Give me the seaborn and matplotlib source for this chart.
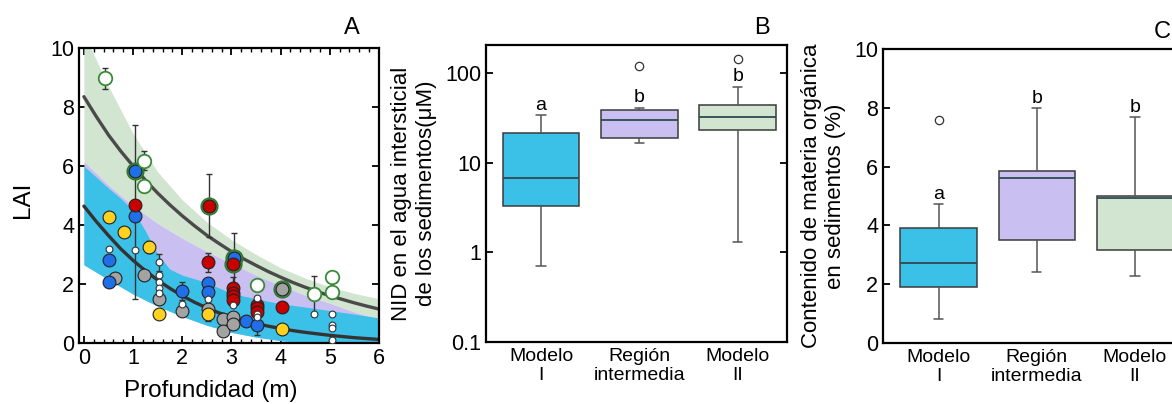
import numpy as np
import pandas as pd
import matplotlib
matplotlib.use("Agg")
import matplotlib.pyplot as plt
import seaborn as sns

# ---------------- Panel A data ----------------
fit_x = [0.0, 0.25, 0.5, 0.75, 1.0, 1.25, 1.5, 1.75, 2.0, 2.25, 2.5, 2.75, 3.0,
         3.25, 3.5, 3.75, 4.0, 4.25, 4.5, 4.75, 5.0, 5.25, 5.5, 5.75, 6.0]
fit_upper = [8.35, 7.68, 7.05, 6.5, 6.0, 5.52, 5.08, 4.68, 4.31, 3.97, 3.65, 3.37, 3.10,
             2.85, 2.63, 2.42, 2.23, 2.05, 1.89, 1.74, 1.60, 1.48, 1.36, 1.25, 1.15]
fit_lower = [4.64, 4.12, 3.64, 3.19, 2.80, 2.45, 2.13, 1.85, 1.60, 1.38, 1.19, 1.02, 0.88,
             0.76, 0.66, 0.57, 0.49, 0.42, 0.36, 0.31, 0.26, 0.22, 0.18, 0.15, 0.12]
depth_grid = [0.0, 0.5, 1.0, 1.5, 2.0, 2.5, 3.0, 3.5, 4.0, 4.5, 5.0, 5.5, 6.0]
green_top = [10.5, 8.7, 7.1, 5.8, 4.85, 4.1, 3.5, 3.0, 2.55, 2.2, 1.9, 1.68, 1.5]
purple_top = [6.15, 5.35, 4.65, 4.05, 3.55, 3.1, 2.7, 2.3, 1.95, 1.62, 1.35, 1.05, 0.8]
band_bottom = [2.65, 2.15, 1.66, 1.25, 0.9, 0.6, 0.36, 0.2, 0.08, 0.0, 0.0, 0.0, 0.0]
blue_x = [0.0, 0.5, 0.75, 1.0, 1.25, 1.5, 1.75, 2.0, 2.5, 3.0, 3.5, 4.0, 4.5, 5.0, 5.5, 6.0]
blue_top = [6.0, 5.25, 4.9, 4.5, 3.8, 3.0, 2.5, 2.3, 2.05, 1.68, 1.5, 1.33, 1.22, 1.1, 0.98, 0.85]
blue_bottom = [2.65, 2.15, 1.9, 1.66, 1.45, 1.25, 1.07, 0.9, 0.6, 0.36, 0.2, 0.08, 0.0, 0.0, 0.0, 0.0]

yellow_x = [0.51, 0.82, 1.33, 1.53, 2.52, 4.03]
yellow_y = [4.26, 3.75, 3.25, 0.98, 0.98, 0.47]
blue_pt_x = [0.51, 0.51, 1.03, 1.03, 2.0, 2.52, 2.52, 3.05, 3.30, 3.52]
blue_pt_y = [2.80, 2.07, 5.83, 4.32, 1.76, 2.02, 1.74, 2.89, 0.75, 0.61]
red_x = [1.03, 2.54, 2.52, 3.03, 3.03, 3.03, 3.03, 3.03, 3.52, 3.52, 3.52, 4.03]
red_y = [4.69, 4.66, 2.73, 2.68, 1.85, 1.70, 1.58, 1.45, 1.29, 1.18, 1.06, 1.21]
gray_x = [0.63, 1.22, 1.53, 2.0, 2.52, 2.83, 2.83, 3.03, 3.03, 4.03]
gray_y = [2.19, 2.31, 1.48, 1.08, 1.14, 0.82, 0.41, 0.89, 0.63, 1.83]
open_x = [0.43, 1.22, 1.22, 3.52, 4.68, 5.04, 5.04]
open_y = [8.97, 6.18, 5.33, 1.95, 1.65, 2.24, 1.73]
white_x = [0.51, 1.03, 1.53, 1.53, 1.53, 1.53, 1.53, 2.0, 2.52, 3.03, 3.52, 3.52,
           3.52, 4.68, 5.04, 5.04, 5.04, 5.04]
white_y = [3.19, 3.14, 2.73, 2.31, 2.08, 1.85, 1.68, 1.31, 1.48, 1.29, 1.52, 1.0,
           0.87, 0.97, 0.97, 0.61, 0.5, 0.1]
ring_x = [1.03, 2.54, 3.03, 3.05, 4.03]
ring_y = [5.83, 4.66, 2.68, 2.89, 1.83]
err_x = [0.43, 1.22, 1.22, 1.03, 1.03, 2.54, 2.52, 2.52, 3.05, 3.03, 3.52, 4.68,
         0.51, 1.33, 2.0, 1.53, 1.53, 2.52]
err_y = [8.97, 6.18, 5.33, 5.83, 3.14, 4.66, 2.73, 1.74, 2.89, 1.85, 0.61, 1.65,
         4.26, 3.25, 1.76, 2.73, 0.98, 0.98]
err_e = [0.35, 0.33, 0.2, 1.55, 1.65, 1.07, 0.31, 0.3, 0.85, 0.38, 0.35, 0.62,
         0.15, 0.2, 0.3, 0.3, 0.15, 0.22]

# ---------------- Panel B / C data ----------------
categories = ["Modelo\nI", "Región\nintermedia", "Modelo\nII"]
nid_modelo1 = [0.70, 3.3, 6.8, 21.3, 34.2]
nid_region = [16.8, 18.0, 19.1, 25.0, 29.9, 34.0, 38.3, 40.6, 120.0]
nid_modelo2 = [1.30, 15.0, 23.1, 28.0, 32.8, 38.0, 43.9, 70.3, 143.0]
nid_letters = ["a", "b", "b"]
nid_letter_y = [43.9, 53.0, 92.5]

mo_modelo1 = [0.8, 1.4, 1.9, 2.3, 2.72, 3.3, 3.9, 4.72, 7.6]
mo_region = [2.43, 3.5, 5.62, 5.86, 7.99]
mo_modelo2 = [2.29, 3.16, 4.92, 5.01, 7.69]
mo_letters = ["a", "b", "b"]
mo_letter_y = [5.06, 8.33, 8.0]

# ---------------- style ----------------
C_BLUE = "#3BC0E8"
C_PURPLE = "#C9BFF0"
C_GREEN = "#D2E5D1"
sns.set_style("ticks")
plt.rcParams["font.family"] = ["Liberation Sans", "DejaVu Sans"]
plt.rcParams["axes.linewidth"] = 1.6
for key in ["text.color", "axes.labelcolor", "xtick.color", "ytick.color",
            "axes.edgecolor"]:
    plt.rcParams[key] = "black"

fig = plt.figure(figsize=(11.72, 4.04), dpi=100)
W, H = 1172.0, 404.0


def axes_px(left, top, right, bottom):
    return fig.add_axes([left / W, 1 - bottom / H, (right - left) / W, (bottom - top) / H])


# ================= Panel A =================
axA = axes_px(79, 48, 379, 343)
axA.fill_between(depth_grid, purple_top, green_top, color=C_GREEN, lw=0, zorder=1)
axA.fill_between(depth_grid, band_bottom, purple_top, color=C_PURPLE, lw=0, zorder=1)
axA.fill_between(blue_x, blue_bottom, blue_top, color=C_BLUE, lw=0, zorder=1)
sns.lineplot(x=fit_x, y=fit_upper, color="#4a4a4a", lw=2.4, ax=axA, zorder=2)
sns.lineplot(x=fit_x, y=fit_lower, color="#333333", lw=2.4, ax=axA, zorder=2)
axA.errorbar(err_x, err_y, yerr=err_e, fmt="none", ecolor="#333333", elinewidth=1.0,
             capsize=2.2, capthick=1.0, zorder=3)
sns.scatterplot(x=ring_x, y=ring_y, s=150, color="#3f8a3f", edgecolor="#2f6f2f",
                linewidth=0.8, ax=axA, zorder=4)
for xs, ys, col in [(gray_x, gray_y, "#A3A3A3"), (yellow_x, yellow_y, "#FFD21F"),
                    (blue_pt_x, blue_pt_y, "#1F6FE8"), (red_x, red_y, "#C90000")]:
    sns.scatterplot(x=xs, y=ys, s=85, color=col, edgecolor="#222222", linewidth=0.8,
                    ax=axA, zorder=5)
sns.scatterplot(x=open_x, y=open_y, s=95, color="white", edgecolor="#3a8a3a",
                linewidth=1.3, ax=axA, zorder=5)
sns.scatterplot(x=white_x, y=white_y, s=24, color="white", edgecolor="#333333",
                linewidth=0.8, ax=axA, zorder=6)
axA.set_xlim(-0.1, 6.0)
axA.set_ylim(0, 10)
axA.set_xticks(range(0, 7))
axA.set_xticks(np.arange(0, 6.01, 0.2), minor=True)
axA.set_yticks(range(0, 11, 2))
axA.tick_params(axis="both", which="major", direction="in", length=5, width=1.3,
                labelsize=15.5, top=True, right=True)
axA.tick_params(axis="x", which="minor", direction="in", length=3, width=1.0,
                top=True, bottom=True)
axA.set_xlabel("Profundidad (m)", fontsize=17.5)
axA.xaxis.set_label_coords(0.44, -0.125)
axA.set_ylabel("LAI", fontsize=17.5)
axA.yaxis.set_label_coords(-0.15, 0.485)
axA.text(0.935, 1.03, "A", transform=axA.transAxes, ha="right", va="bottom", fontsize=17)
for s in axA.spines.values():
    s.set_visible(True)


# ================= box plot helper =================
def draw_box(ax, groups, values_list, log=False):
    df = pd.DataFrame({
        "grupo": np.concatenate([[g] * len(v) for g, v in zip(groups, values_list)]),
        "valor": np.concatenate(values_list),
    })
    sns.boxplot(data=df, x="grupo", y="valor", hue="grupo", order=groups,
                hue_order=groups, palette=[C_BLUE, C_PURPLE, C_GREEN], width=0.78,
                saturation=1, linecolor="#3a3a3a", linewidth=1.1, legend=False, ax=ax,
                whiskerprops={"color": "#555555"}, capprops={"color": "#555555"},
                flierprops={"marker": "o", "markerfacecolor": "none",
                            "markeredgecolor": "#333333", "markersize": 6,
                            "markeredgewidth": 0.9},
                medianprops={"color": "#2f4a52", "linewidth": 1.3})
    for cont in ax.containers:
        for cap in getattr(cont, "caps", []):
            xd = np.asarray(cap.get_xdata(), dtype=float)
            c = xd.mean()
            half = (xd.max() - xd.min()) * 0.12
            cap.set_xdata([c - half, c + half])
    if log:
        ax.set_yscale("log")
    ax.set_xlabel("")
    ax.tick_params(axis="x", length=0, labelsize=14, pad=4)
    for s in ax.spines.values():
        s.set_visible(True)


# ================= Panel B =================
axB = axes_px(486, 45, 787, 342)
draw_box(axB, categories, [nid_modelo1, nid_region, nid_modelo2], log=True)
axB.set_ylim(0.1, 206)
axB.set_xlim(-0.56, 2.5)
axB.set_yticks([0.1, 1, 10, 100])
axB.set_yticklabels(["0.1", "1", "10", "100"])
axB.minorticks_off()
axB.tick_params(axis="y", direction="in", length=5, width=1.3, labelsize=15.5,
                left=True, right=True)
axB.set_ylabel("NID en el agua intersticial\nde los sedimentos(μM)", fontsize=16,
               labelpad=6)
for i, (lt, ly) in enumerate(zip(nid_letters, nid_letter_y)):
    axB.text(i, ly, lt, ha="center", va="center", fontsize=14)
axB.text(0.944, 1.02, "B", transform=axB.transAxes, ha="right", va="bottom", fontsize=17)

# ================= Panel C =================
axC = axes_px(883, 49, 1184, 343)
draw_box(axC, categories, [mo_modelo1, mo_region, mo_modelo2])
axC.set_ylim(0, 10)
axC.set_xlim(-0.567, 2.5)
axC.set_yticks(range(0, 11, 2))
axC.tick_params(axis="y", direction="in", length=5, width=1.3, labelsize=15.5)
axC.set_ylabel("Contenido de materia orgánica\nen sedimentos (%)", fontsize=16,
               labelpad=6)
for i, (lt, ly) in enumerate(zip(mo_letters, mo_letter_y)):
    axC.text(i, ly, lt, ha="center", va="center", fontsize=14)
axC.text(0.955, 1.02, "C", transform=axC.transAxes, ha="right", va="bottom", fontsize=17)

fig.savefig("out.png", dpi=100)
